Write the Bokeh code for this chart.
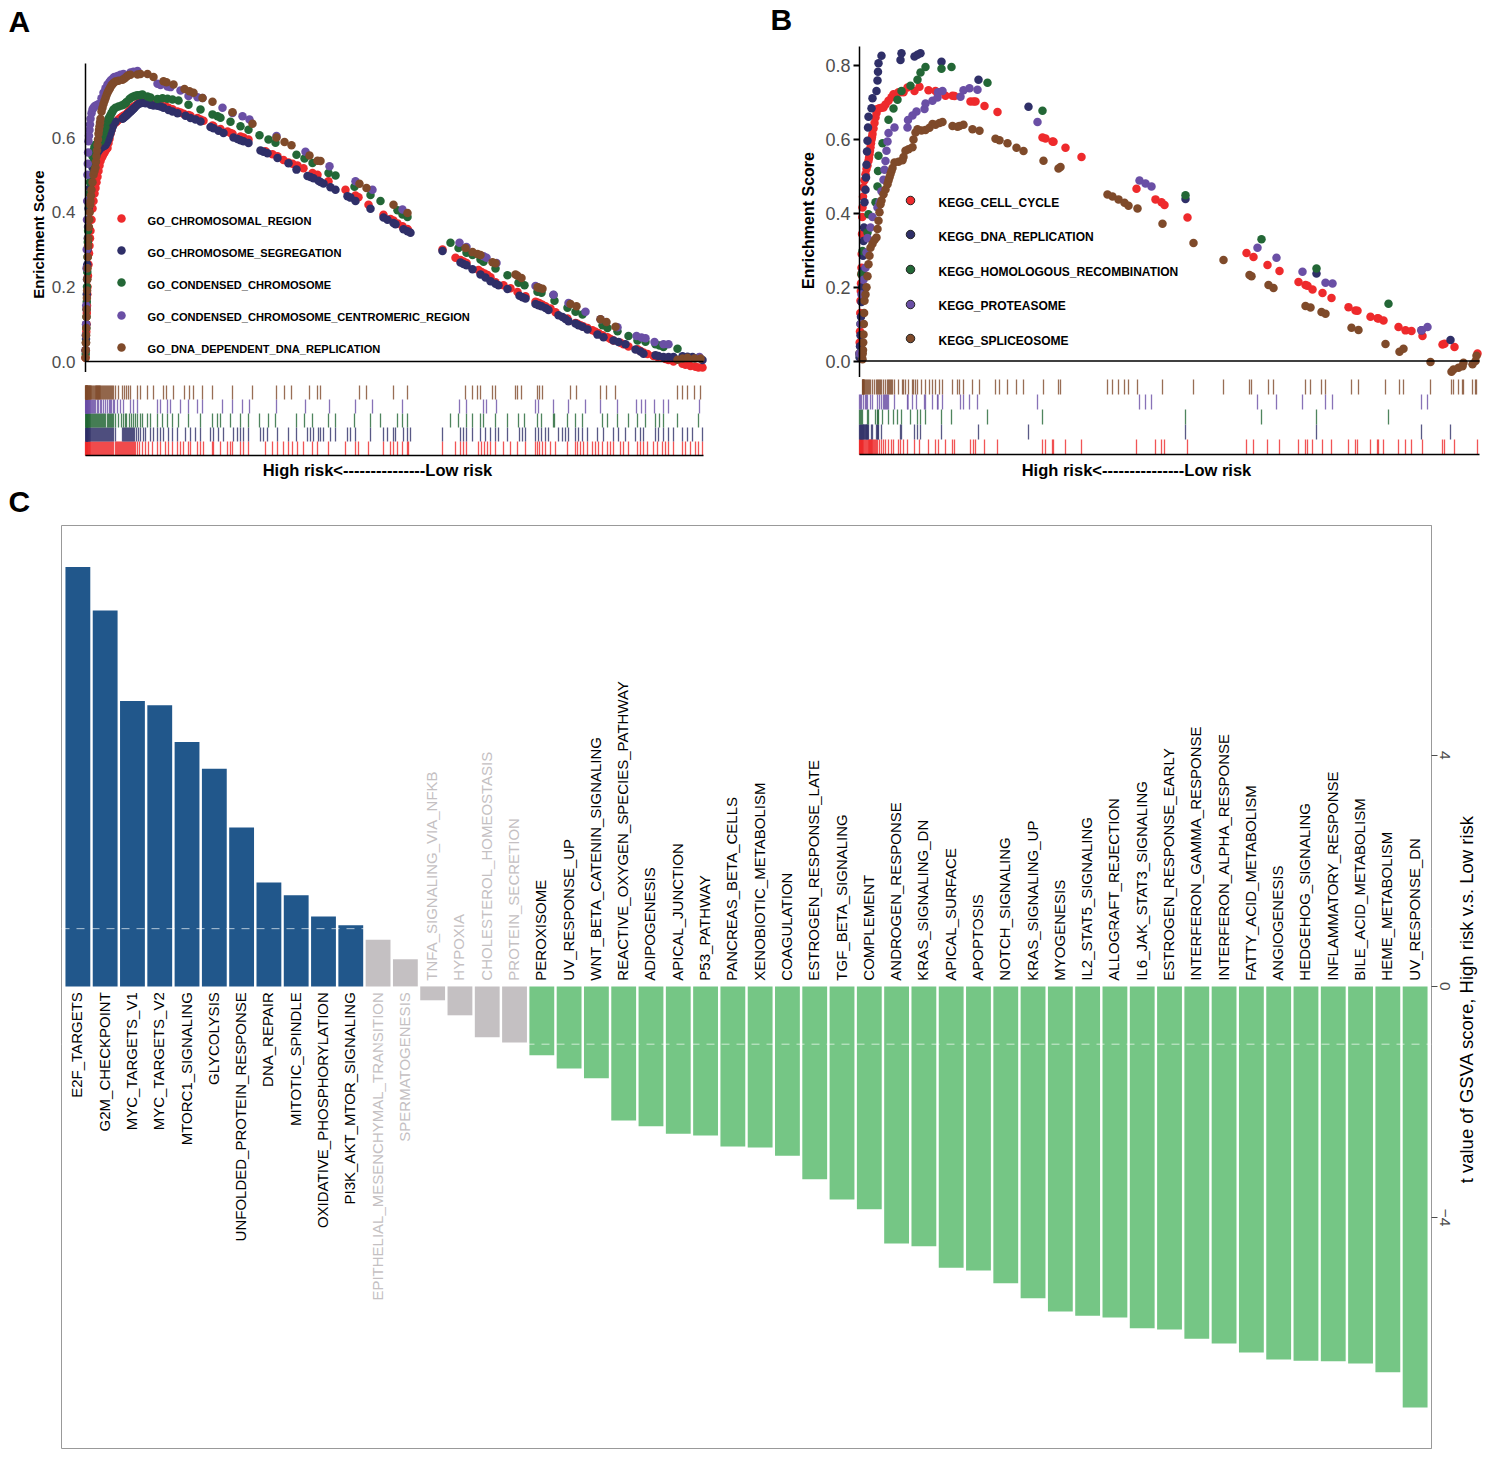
from math import pi
from bokeh.core.properties import value
from bokeh.embed import file_html
from bokeh.resources import INLINE
from bokeh.layouts import column, row
from bokeh.models import ColumnDataSource, FactorRange, FixedTicker, Label, NumeralTickFormatter, Range1d, Span
from bokeh.plotting import figure

# ---------------- panel A data: (rank position, enrichment score) ----------------
A_NAMES = ["GO_CHROMOSOMAL_REGION", "GO_CHROMOSOME_SEGREGATION", "GO_CONDENSED_CHROMOSOME",
           "GO_CONDENSED_CHROMOSOME_CENTROMERIC_REGION", "GO_DNA_DEPENDENT_DNA_REPLICATION"]
A_RED = [(0,.01),(.3,.03),(.5,.05),(.8,.08),(1,.1),(1.3,.13),(1.5,.15),(1.8,.18),(2,.2),(2.5,.23),(3,.26),(3.5,.29),(4,.31),(4.5,.33),(5,.35),(6,.38),(7,.41),(8,.43),(9,.45),
 (10,.465),(11,.48),(12,.495),(13,.51),(14,.525),(15,.537),(16,.545),(17,.55),(18,.556),(19,.56),(20,.565),(21,.569),(22,.572),
 (23,.585),(24,.597),(25,.61),(26,.62),(27,.63),(28,.635),(30,.64),(31,.642),(32,.645),(33,.648),(34,.65),(35,.652),(36,.654),(37,.656),(38,.658),(39,.659),(40,.66),(41,.663),(42,.666),(43,.669),
 (44,.672),(45,.675),(46,.678),(47,.68),(48,.682),(49,.684),(50,.685),(52,.69),(54,.694),(57,.70),(60,.698),(63,.695),(67,.692),(72,.69),(75,.688),(80,.684),
 (83,.68),(87,.676),(92,.67),(95,.667),(98,.664),(103,.66),(105,.658),(112,.652),(115,.648),(118,.645),(127,.632),(128,.63),
 (135,.623),(142,.616),(145,.612),(147,.61),(155,.603),(158,.6),(163,.595),(180,.563),(187,.555),(192,.55),(198,.54),(203,.533),
 (207,.53),(212,.525),(218,.518),(227,.505),(232,.5),(243,.483),(260,.46),(270,.445),(273,.44),(283,.42),(298,.393),(305,.382),
 (308,.378),(312,.37),(317,.362),(322,.355),(323,.35),(357,.30),(370,.278),(375,.272),(378,.268),(381,.264),(393,.245),(396,.24),
 (399,.236),(402,.232),(405,.226),(410,.212),(418,.204),(425,.196),(432,.186),(440,.175),(450,.16),(452,.158),(454,.156),(457,.152),
 (460,.148),(465,.142),(470,.132),(482,.115),(490,.103),(492,.101),(495,.097),(498,.094),(502,.09),(507,.084),(510,.08),(513,.076),
 (517,.07),(522,.065),(525,.06),(528,.056),(535,.05),(538,.046),(543,.04),(552,.033),(555,.028),(558,.024),(562,.02),(568,.015),
 (572,.012),(577,.01),(580,.007),(583,.004),(588,0),(597,-.006),(600,-.009),(605,-.012),(610,-.014),(613,-.016),(617,-.016)]
A_NAVY = [(.2,.03),(.5,.06),(.8,.1),(1,.14),(1.3,.18),(1.5,.22),(1.8,.26),(2,.3),(2.3,.33),(2.5,.36),(3,.41),(3.5,.43),(4,.45),(4.5,.465),(5,.48),(6,.5),(7,.52),(8,.53),(9,.54),(10,.55),(11,.555),
 (12,.56),(13,.565),(14,.568),(15,.572),(16,.574),(17,.575),(18,.577),(19,.578),(20,.58),(21,.585),(22,.59),(23,.597),(24,.605),(25,.612),(26,.62),(27,.628),(28,.635),(30,.642),(37,.65),
 (38,.652),(39,.655),(40,.657),(41,.66),(42,.662),(43,.665),(44,.667),(45,.67),(46,.672),(47,.675),(48,.677),(49,.68),(51,.685),(53,.69),(55,.692),(58,.693),(60,.692),(65,.688),(68,.686),
 (72,.685),(75,.683),(78,.68),(83,.674),(87,.67),(92,.665),(100,.658),(105,.652),(110,.648),(115,.643),(125,.628),(128,.625),
 (133,.618),(138,.612),(148,.6),(152,.596),(155,.593),(158,.59),(163,.585),(175,.565),(178,.562),(182,.558),(192,.545),(203,.531),
 (211,.514),(222,.497),(225,.494),(228,.491),(233,.484),(235,.481),(238,.477),(245,.467),(250,.46),(262,.443),(265,.439),(270,.43),
 (285,.409),(298,.386),(302,.38),(308,.371),(310,.368),(318,.354),(322,.349),(325,.345),(357,.296),(375,.265),(378,.261),(381,.258),
 (387,.247),(395,.233),(400,.225),(405,.215),(410,.208),(413,.204),(422,.194),(434,.176),(437,.172),(440,.169),(450,.154),(453,.151),
 (456,.148),(460,.143),(463,.138),(473,.124),(477,.119),(480,.114),(483,.108),(490,.102),(493,.097),(497,.093),(502,.086),(512,.072),
 (518,.065),(528,.056),(533,.052),(540,.046),(550,.032),(555,.027),(558,.021),(570,.017),(573,.015),(578,.012),(583,.012),(588,.012),
 (597,.014),(602,.013),(607,.012),(617,.004)]
A_GREEN = [(.2,.02),(.5,.05),(.8,.09),(1,.12),(1.3,.16),(1.5,.2),(1.8,.24),(2,.28),(2.3,.32),(2.6,.35),(3,.38),(3.5,.42),(4,.45),(4.5,.48),(5,.5),(6,.53),(7,.55),(8,.565),(9,.575),(10,.58),(11,.582),(12,.585),
 (13,.587),(14,.589),(15,.59),(16,.597),(17,.605),(18,.612),(19,.62),(20,.628),(22,.644),(23,.65),(24,.655),(25,.66),(26,.665),(27,.67),(28,.675),(30,.68),(33,.683),(36,.686),(38,.688),(40,.692),(41,.695),
 (44,.703),(46,.707),(48,.71),(50,.712),(52,.713),(55,.714),(57,.715),(62,.71),(65,.707),(72,.703),(77,.705),(82,.704),(87,.702),(93,.699),(103,.688),(115,.675),
 (127,.662),(132,.657),(135,.653),(145,.642),(155,.63),(163,.621),(174,.606),(183,.595),(190,.586),(211,.554),(219,.544),(227,.532),
 (243,.505),(250,.498),(269,.468),(285,.446),(295,.43),(312,.405),(317,.394),(322,.387),(365,.318),(373,.304),(381,.291),(387,.285),
 (395,.273),(398,.267),(410,.249),(422,.231),(433,.211),(439,.204),(452,.187),(456,.184),(468,.178),(469,.163),(482,.144),(490,.133),
 (497,.126),(517,.097),(522,.09),(532,.081),(543,.068),(552,.056),(560,.053),(570,.046),(574,.043),(578,.039),(592,.034),(613,.01)]
A_PURPLE = [(.1,.03),(.3,.07),(.5,.1),(.7,.15),(1,.25),(1.2,.3),(1.5,.38),(1.7,.43),(2,.5),(2.3,.53),(2.6,.56),(3,.59),(3.5,.605),(4,.62),(4.5,.635),(5,.65),(6,.665),(7,.675),(8,.68),(9,.683),(10,.685),(12,.688),(13,.689),(15,.69),
 (16,.705),(18,.72),(20,.732),(22,.742),(24,.749),(25,.752),(26,.755),(28,.76),(29,.762),(32,.765),(35,.768),(38,.77),(45,.774),(48,.776),(52,.778),(72,.744),(75,.741),
 (82,.737),(85,.735),(95,.726),(103,.711),(112,.708),(117,.706),(137,.68),(147,.666),(157,.657),(164,.648),(191,.604),(220,.562),
 (244,.523),(270,.483),(287,.46),(317,.407),(374,.318),(381,.307),(398,.282),(401,.278),(411,.264),(450,.202),(453,.198),(468,.179),
 (483,.157),(500,.133),(515,.113),(532,.092),(551,.068),(556,.064),(560,.062),(569,.052),(578,.046),(583,.046),(614,.012)]
A_BROWN = [(0,.01),(.2,.03),(.4,.05),(.6,.07),(.8,.09),(1,.12),(1.2,.14),(1.4,.17),(1.6,.19),(1.8,.22),(2,.25),(2.3,.28),(2.6,.31),(3,.33),(3.4,.36),(3.8,.38),(4.2,.4),(4.6,.42),(5,.43),(5.5,.445),(6,.46),(7,.48),(8,.5),(9,.51),(10,.52),(10.5,.535),(11,.55),(11.5,.565),
 (12,.58),(12.5,.595),(13,.61),(13.5,.62),(14,.63),(14.5,.64),(15,.65),(16,.67),(17,.68),(18,.69),(19,.698),(20,.705),(21,.713),(22,.72),(23,.725),(24,.73),(25,.735),(26,.74),(27,.743),(28,.746),(30,.75),(33,.752),(37,.755),
 (39,.758),(41,.763),(43,.767),(45,.768),(52,.769),(55,.77),(62,.77),(68,.762),(78,.751),(81,.748),(88,.742),(99,.73),(104,.724),(108,.72),
 (117,.706),(127,.696),(147,.668),(167,.637),(191,.6),(199,.588),(206,.579),(224,.552),(232,.538),(235,.537),(274,.476),(281,.465),
 (308,.42),(322,.398),(380,.304),(387,.293),(392,.288),(395,.285),(407,.266),(410,.263),(430,.233),(432,.23),(436,.224),(452,.199),
 (454,.197),(457,.195),(485,.154),(491,.148),(515,.113),(521,.106),(530,.093),(592,.005),(597,.008),(602,.01),(609,.008),(615,.008)]

# ---------------- panel B data: (rank position, enrichment score) ----------------
B_NAMES = ["KEGG_CELL_CYCLE", "KEGG_DNA_REPLICATION", "KEGG_HOMOLOGOUS_RECOMBINATION",
           "KEGG_PROTEASOME", "KEGG_SPLICEOSOME"]
B_RED = [(0,.02),(.2,.05),(.5,.08),(.8,.13),(1,.163),(1.3,.19),(1.5,.21),(1.8,.235),(2,.253),(2.2,.29),(2.5,.344),(2.8,.39),(3,.416),(3.5,.445),(4,.47),(5,.49),(6,.506),(7,.52),(8,.53),(9,.543),(9.5,.55),(10,.56),(10.5,.57),
 (11,.579),(11.5,.59),(12,.6),(12.5,.607),(13,.615),(14,.63),(15,.645),(16,.66),(17,.672),(18,.683),(20,.685),(22,.686),(24,.687),(26,.695),(29,.705),(32,.715),(34,.723),(39,.728),(41,.728),
 (44,.728),(48,.741),(55,.732),(60,.743),(69,.734),(76,.732),(79,.728),(86,.719),(93,.719),(95,.718),(111,.703),(114,.703),(116,.703),
 (125,.691),(138,.675),(183,.606),(186,.603),(193,.595),(194,.594),(206,.578),(222,.553),(277,.467),(296,.438),(302,.43),(305,.423),
 (328,.389),(387,.293),(394,.282),(408,.26),(420,.244),(439,.214),(446,.206),(448,.204),(453,.194),(463,.184),(472,.171),(489,.146),
 (496,.137),(498,.136),(511,.12),(518,.116),(519,.115),(524,.11),(539,.092),(546,.083),(552,.081),(563,.068),(583,.045),(585,.047),
 (595,.038),(618,.02)]
B_NAVY = [(0,.01),(.5,.04),(1,.07),(1.5,.12),(2,.16),(2.5,.2),(3,.244),(3.5,.285),(4,.325),(4.5,.362),(5,.43),(6,.464),(6.5,.497),(7,.532),(7.5,.568),(8,.597),
 (8.5,.633),(9,.662),(12,.685),(13,.712),(17,.732),(18,.76),(18.5,.784),(19,.807),(22,.827),(41,.816),(42,.834),(55,.825),(58,.83),
 (61,.834),(82,.811),(119,.762),(169,.689),(326,.439),(457,.237),(562,.083),(591,.057)]
B_GREEN = [(0,.02),(1,.1),(2,.235),(3,.298),(8,.348),(9,.398),(16,.43),(18,.473),(18.5,.515),(19,.556),(23,.59),(29,.654),(34,.684),
 (38,.708),(42,.732),(51,.746),(58,.762),(61,.782),(66,.797),(82,.792),(92,.797),(128,.754),(183,.678),(326,.449),(402,.33),(457,.251),
 (529,.155)]
B_PURPLE = [(0,.02),(1,.1),(2,.18),(4,.22),(6,.253),(7,.294),(8,.333),(11,.362),(13,.39),(18,.416),(20,.43),(22,.46),(24,.491),(25,.518),
 (26,.542),(27,.57),(28,.595),(29,.618),(35,.633),(48,.633),(48.5,.653),(53,.665),(57,.676),(65,.683),(66,.698),(73,.705),(78,.714),
 (78.5,.728),(83,.732),(101,.716),(104,.734),(110,.739),(118,.735),(178,.648),(280,.489),(286,.481),(292,.473),(398,.307),(417,.28),
 (443,.242),(466,.212),(473,.21),(562,.083),(568,.092)]
B_BROWN = [(3,.005),(3.2,.02),(3.5,.03),(3.7,.05),(4,.072),(4.3,.1),(4.6,.13),(5,.163),(6,.18),(7,.2),(8,.23),(9,.262),(10,.285),(11,.307),(13,.318),(15,.328),(17,.335),(18,.358),(19,.38),(20,.403),(21,.425),(22,.435),(24,.452),
 (26,.465),(28,.479),(29,.489),(30,.498),(31,.507),(32,.515),(33,.523),(35,.538),(39,.54),(43,.544),(44,.553),(46,.57),(49,.574),(53,.579),(54,.6),(56,.619),(58,.628),(62,.625),
 (66,.626),(70,.632),(73,.642),(76,.64),(80,.645),(83,.648),(93,.637),(98,.635),(100,.637),(104,.64),(113,.628),(120,.624),(136,.602),
 (140,.598),(148,.59),(157,.578),(164,.569),(184,.543),(199,.522),(201,.526),(248,.451),(253,.446),(259,.438),(265,.429),(269,.421),
 (278,.413),(303,.372),(334,.32),(364,.274),(390,.233),(392,.23),(409,.206),(414,.198),(446,.149),(451,.145),(462,.133),(466,.128),
 (492,.09),(499,.084),(526,.046),(540,.025),(544,.033),(571,-.003),(592,-.029),(594,-.023),(599,-.018),(603,-.014),(604,-.005),(613,-.009),
 (616,0),(617,.014)]

# ---------------- panel C data ----------------
HALLMARKS = ["E2F_TARGETS","G2M_CHECKPOINT","MYC_TARGETS_V1","MYC_TARGETS_V2","MTORC1_SIGNALING","GLYCOLYSIS",
 "UNFOLDED_PROTEIN_RESPONSE","DNA_REPAIR","MITOTIC_SPINDLE","OXIDATIVE_PHOSPHORYLATION","PI3K_AKT_MTOR_SIGNALING",
 "EPITHELIAL_MESENCHYMAL_TRANSITION","SPERMATOGENESIS","TNFA_SIGNALING_VIA_NFKB","HYPOXIA","CHOLESTEROL_HOMEOSTASIS",
 "PROTEIN_SECRETION","PEROXISOME","UV_RESPONSE_UP","WNT_BETA_CATENIN_SIGNALING","REACTIVE_OXYGEN_SPECIES_PATHWAY",
 "ADIPOGENESIS","APICAL_JUNCTION","P53_PATHWAY","PANCREAS_BETA_CELLS","XENOBIOTIC_METABOLISM","COAGULATION",
 "ESTROGEN_RESPONSE_LATE","TGF_BETA_SIGNALING","COMPLEMENT","ANDROGEN_RESPONSE","KRAS_SIGNALING_DN","APICAL_SURFACE",
 "APOPTOSIS","NOTCH_SIGNALING","KRAS_SIGNALING_UP","MYOGENESIS","IL2_STAT5_SIGNALING","ALLOGRAFT_REJECTION",
 "IL6_JAK_STAT3_SIGNALING","ESTROGEN_RESPONSE_EARLY","INTERFERON_GAMMA_RESPONSE","INTERFERON_ALPHA_RESPONSE",
 "FATTY_ACID_METABOLISM","ANGIOGENESIS","HEDGEHOG_SIGNALING","INFLAMMATORY_RESPONSE","BILE_ACID_METABOLISM",
 "HEME_METABOLISM","UV_RESPONSE_DN"]
T_VALUES = [7.26,6.51,4.94,4.87,4.23,3.77,2.75,1.80,1.58,1.21,1.06,0.81,0.47,-0.24,-0.50,-0.88,-0.97,-1.19,-1.42,-1.59,
 -2.32,-2.42,-2.55,-2.58,-2.77,-2.79,-2.93,-3.34,-3.69,-3.86,-4.45,-4.50,-4.87,-4.92,-5.14,-5.40,-5.63,-5.70,-5.73,
 -5.92,-5.94,-6.10,-6.18,-6.34,-6.46,-6.48,-6.49,-6.53,-6.68,-7.29]
T_CUTOFF = 1.0
X_LABEL = "High risk<---------------Low risk"
Y_LABEL = "Enrichment Score"
C_LABEL = "t value of GSVA score, High risk v.s. Low risk"

# ---------------- styles ----------------
COLORS = ["#EE2A2C", "#2F2F68", "#236736", "#6A4FA5", "#7F4A2A"]
FONT = "Liberation Sans"
GREY = "#4D4D4D"


def enrichment_panel(letter, names, series, width, height, left, x_end, px_per_es, zero_py, y_bottom, y_top, y_ticks,
                     tick_size, tick_len, standoff, leg_dot_py, leg_txt_py, leg_dot_x, leg_txt_x, leg_font, leg_outline,
                     title_x, title_py, title_size):
    """Whole canvas is the frame, so that all the texts stay inside it; the axis is pinned at rank 0."""
    es = lambda py: (zero_py - py) / px_per_es
    p = figure(width=width, height=height, output_backend="svg", toolbar_location=None,
               x_range=Range1d(-left, width - left), y_range=Range1d(es(height), es(0)),
               min_border=0, x_axis_location=None)
    p.grid.visible = False
    p.outline_line_color = None
    yax = p.yaxis[0]
    yax.fixed_location = 0
    yax.bounds = (y_bottom, y_top)
    yax.ticker = FixedTicker(ticks=y_ticks)
    yax.formatter = NumeralTickFormatter(format="0.0")
    yax.axis_line_color = "black"
    yax.axis_line_width = 1.5
    yax.major_tick_line_color = "black" if tick_len else None
    yax.major_tick_line_width = 2
    yax.major_tick_out = tick_len
    yax.major_tick_in = 0
    yax.minor_tick_line_color = None
    yax.major_label_text_font = FONT
    yax.major_label_text_font_size = tick_size
    yax.major_label_text_color = GREY
    yax.major_label_standoff = standoff
    for ser, col in zip(series, COLORS):
        xs, ys = zip(*ser)
        p.scatter(list(xs), list(ys), size=8.5, color=col, line_color=None)
    p.line([0, x_end], [0, 0], line_color="black", line_width=1.5)
    for name, col, dy, ty in zip(names, COLORS, leg_dot_py, leg_txt_py):
        p.scatter([leg_dot_x], [es(dy)], size=8.5, fill_color=col, line_color=leg_outline, line_width=1)
        p.text([leg_txt_x], [es(ty)], text=[name], text_font=value(FONT), text_font_style="bold",
               text_font_size=leg_font, text_color="black", text_baseline="middle")
    p.add_layout(Label(x=title_x, y=es(title_py), text=Y_LABEL, angle=pi / 2, text_font=FONT, text_font_style="bold",
                       text_font_size=title_size, text_color="black", text_align="center", text_baseline="middle"))
    p.add_layout(Label(x=letter[1], y=es(letter[2]), text=letter[0], text_font=FONT, text_font_style="bold",
                       text_font_size="30px", text_color="black", text_align="left", text_baseline="middle"))
    return p


def rug_panel(series, width, height, left, top_py, base_py, row_px, x_end, label_x, label_py, extra=None):
    """Tick rows, rows 0-5 stand on the base line; again the whole canvas is the frame."""
    rows = lambda py: (base_py - py) / row_px
    p = figure(width=width, height=height, output_backend="svg", toolbar_location=None,
               x_range=Range1d(-left, width - left), y_range=Range1d(rows(top_py + height), rows(top_py)),
               min_border=0, x_axis_location=None, y_axis_location=None)
    p.grid.visible = False
    p.outline_line_color = None
    for i, (ser, col) in enumerate(zip(series, COLORS)):
        xs = [pt[0] for pt in ser]
        p.segment(xs, [i] * len(xs), xs, [i + 1] * len(xs), line_color=col, line_width=1.3, line_alpha=0.8)
    p.line([0, x_end], [0, 0], line_color="black", line_width=1.5)
    p.add_layout(Label(x=label_x, y=rows(label_py), text=X_LABEL, text_font=FONT, text_font_style="bold",
                       text_font_size="16.5px", text_color="black", text_align="center", text_baseline="middle"))
    if extra:
        p.add_layout(Label(x=extra[1], y=rows(extra[2]), text=extra[0], text_font=FONT, text_font_style="bold",
                           text_font_size="30px", text_color="black", text_align="left", text_baseline="middle"))
    return p


A_SERIES = [A_RED, A_NAVY, A_GREEN, A_PURPLE, A_BROWN]
B_SERIES = [B_RED, B_NAVY, B_GREEN, B_PURPLE, B_BROWN]

a_main = enrichment_panel(("A", -77, 21), A_NAMES, A_SERIES, 770, 372, 85, 618, 373.3, 361, -0.0295, 0.798,
                          [0, .2, .4, .6], "17px", 0, 10, [218, 250, 282, 315, 347], [220, 252, 284, 316, 348], 36, 62,
                          "11.1px", None, -47, 234, "15px")
b_main = enrichment_panel(("B", -89, 19), B_NAMES, B_SERIES, 717, 377, 89, 620, 369, 360.5, -0.0447, 0.852,
                          [0, .2, .4, .6, .8], "18px", 6, 3, [200, 234, 269, 304, 338], [202.5, 236.5, 271.5, 305.5, 340.5], 51, 79,
                          "12px", "#222222", -51, 220, "16px")
a_rug = rug_panel(A_SERIES, 770, 150, 85, 372, 455, 14, 618, 292, 469.5, extra=("C", -77, 501))
b_rug = rug_panel(B_SERIES, 717, 145, 89, 377, 454, 15, 620, 277, 469.5)

# ---------------- panel C ----------------
BLUE, LIGHT, GREEN = "#21578B", "#C4C0C2", "#75C685"
bar_colors = [BLUE if t > T_CUTOFF else GREEN if t < -T_CUTOFF else LIGHT for t in T_VALUES]
text_colors = [LIGHT if abs(t) < T_CUTOFF else "black" for t in T_VALUES]
src = ColumnDataSource(dict(
    name=HALLMARKS, t=T_VALUES, bar=bar_colors, txt=text_colors,
    anchor=[-0.1 if t > 0 else 0.1 for t in T_VALUES],
    align=["right" if t > 0 else "left" for t in T_VALUES],
))
c = figure(width=1456, height=935, output_backend="svg", toolbar_location=None,
           x_range=FactorRange(factors=HALLMARKS, range_padding=0.1, range_padding_units="absolute"),
           y_range=Range1d(-8.0, 7.98), min_border=0, min_border_left=61, min_border_right=25,
           min_border_top=3, min_border_bottom=9, x_axis_location=None, y_axis_location="right")
c.grid.visible = False
c.outline_line_color = "#999999"
c.outline_line_width = 1
c.vbar(x="name", top="t", bottom=0, width=0.91, fill_color="bar", line_color=None, source=src)
for level in (T_CUTOFF, -T_CUTOFF):
    c.add_layout(Span(location=level, dimension="width", line_color="white", line_alpha=0.65, line_width=1,
                      line_dash=[8, 7]))
c.text(x="name", y="anchor", text="name", angle=pi / 2, text_align="align", text_baseline="middle",
       text_font=value(FONT), text_font_size="15px", text_color="txt", x_offset=-1, source=src)
rax = c.yaxis[0]
rax.ticker = FixedTicker(ticks=[-4, 0, 4])
rax.major_label_overrides = {-4: "\u22124", 0: "0", 4: "4"}
rax.major_label_orientation = "vertical"
rax.major_label_text_font = FONT
rax.major_label_text_font_size = "15.5px"
rax.major_label_text_color = GREY
rax.major_label_standoff = 2
rax.axis_line_color = "#999999"
rax.major_tick_line_color = GREY
rax.major_tick_out = 6
rax.major_tick_in = 0
rax.minor_tick_line_color = None

strip = figure(width=31, height=935, output_backend="svg", toolbar_location=None,
               x_range=Range1d(0, 31), y_range=Range1d(-8.0, 7.98), min_border=0, min_border_top=3, min_border_bottom=9,
               x_axis_location=None, y_axis_location=None)
strip.grid.visible = False
strip.outline_line_color = None
strip.add_layout(Label(x=10, y=-0.22, text=C_LABEL, angle=pi / 2, text_font=FONT, text_font_size="18.5px",
                       text_color="black", text_align="center", text_baseline="middle"))

page = column(row(column(a_main, a_rug), column(b_main, b_rug)), row(c, strip))
open("out.html", "w").write(file_html(page, INLINE))
